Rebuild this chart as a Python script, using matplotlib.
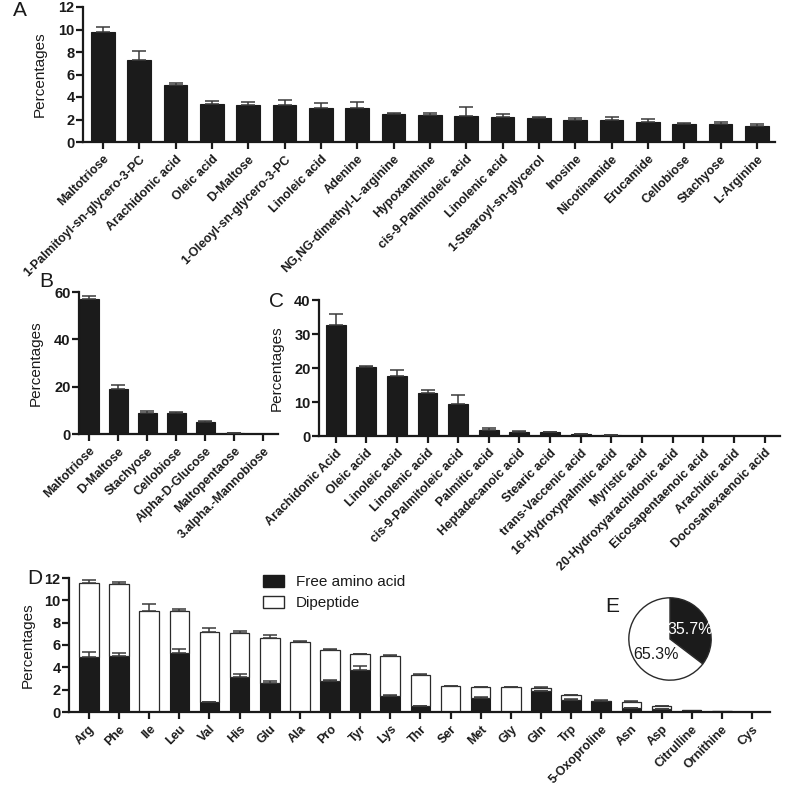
import matplotlib
matplotlib.use("Agg")
import matplotlib.pyplot as plt
from matplotlib.patches import Patch
import numpy as np

plt.rcParams['font.family'] = ['Liberation Sans', 'DejaVu Sans']

# ---------------- data ----------------
a_labels = ["Maltotriose", "1-Palmitoyl-sn-glycero-3-PC", "Arachidonic acid", "Oleic acid",
            "D-Maltose", "1-Oleoyl-sn-glycero-3-PC", "Linoleic acid", "Adenine",
            "NG,NG-dimethyl-L-arginine", "Hypoxanthine", "cis-9-Palmitoleic acid",
            "Linolenic acid", "1-Stearoyl-sn-glycerol", "Inosine", "Nicotinamide",
            "Erucamide", "Cellobiose", "Stachyose", "L-Arginine"]
a_values = [9.78, 7.29, 5.07, 3.38, 3.29, 3.29, 3.05, 3.05, 2.46, 2.44, 2.3, 2.2,
            2.14, 2.0, 2.0, 1.82, 1.61, 1.61, 1.46]
a_err = [0.42, 0.83, 0.2, 0.29, 0.29, 0.41, 0.42, 0.51, 0.14, 0.13, 0.77, 0.27,
         0.1, 0.1, 0.23, 0.21, 0.06, 0.18, 0.15]

b_labels = ["Maltotriose", "D-Maltose", "Stachyose", "Cellobiose", "Alpha-D-Glucose",
            "Maltopentaose", "3.alpha.-Mannobiose"]
b_values = [57.2, 19.1, 8.9, 8.9, 5.1, 0.4, 0.1]
b_err = [1.3, 1.4, 1.0, 0.3, 0.3, 0.05, 0.0]

c_labels = ["Arachidonic Acid", "Oleic acid", "Linoleic acid", "Linolenic acid",
            "cis-9-Palmitoleic acid", "Palmitic acid", "Heptadecanoic acid", "Stearic acid",
            "trans-Vaccenic acid", "16-Hydroxypalmitic acid", "Myristic acid",
            "20-Hydroxyarachidonic acid", "Eicosapentaenoic acid", "Arachidic acid",
            "Docosahexaenoic acid"]
c_values = [32.7, 20.3, 17.7, 12.7, 9.3, 1.8, 1.3, 1.1, 0.5, 0.2, 0.05, 0.03, 0.02, 0.02, 0.01]
c_err = [3.1, 0.3, 1.6, 0.9, 2.9, 0.5, 0.2, 0.05, 0.2, 0.05, 0.0, 0.0, 0.0, 0.0, 0.0]

d_labels = ["Arg", "Phe", "Ile", "Leu", "Val", "His", "Glu", "Ala", "Pro", "Tyr", "Lys",
            "Thr", "Ser", "Met", "Gly", "Gln", "Trp", "5-Oxoproline", "Asn", "Asp",
            "Citrulline", "Ornithine", "Cys"]
d_free = [4.96, 4.99, 0.0, 5.29, 0.89, 3.15, 2.64, 0.0, 2.78, 3.77, 1.46, 0.5, 0.0, 1.28,
          0.0, 1.84, 1.04, 1.01, 0.36, 0.24, 0.2, 0.12, 0.0]
d_free_err = [0.42, 0.31, 0.0, 0.38, 0.03, 0.24, 0.12, 0.0, 0.12, 0.36, 0.09, 0.03, 0.0,
              0.06, 0.0, 0.06, 0.12, 0.06, 0.03, 0.02, 0.0, 0.0, 0.0]
d_dipeptide = [6.59, 6.44, 9.06, 3.77, 6.27, 3.89, 4.01, 6.27, 2.77, 1.40, 3.56, 2.8, 2.29,
               0.92, 2.2, 0.30, 0.45, 0.0, 0.56, 0.29, 0.0, 0.0, 0.0]
d_total_err = [0.25, 0.24, 0.59, 0.15, 0.34, 0.2, 0.24, 0.13, 0.12, 0.06, 0.09, 0.06, 0.04,
               0.06, 0.04, 0.06, 0.06, 0.06, 0.06, 0.03, 0.0, 0.0, 0.0]

e_labels = ["35.7%", "65.3%"]
e_values = [35.7, 65.3]

# ---------------- layout helpers ----------------
W, H = 787, 798
fig = plt.figure(figsize=(W / 100, H / 100), dpi=100)
BAR = '#1b1b1b'
TXT = '#1a1a1a'


def px_axes(left, top, right, bottom):
    return fig.add_axes([left / W, 1 - bottom / H, (right - left) / W, (bottom - top) / H])


def style(ax, ylim, yticks, labels, xlim, lab_px):
    for s in ['top', 'right']:
        ax.spines[s].set_visible(False)
    for s in ['left', 'bottom']:
        ax.spines[s].set_linewidth(1.6)
        ax.spines[s].set_color(TXT)
    ax.set_ylim(*ylim)
    ax.set_yticks(yticks)
    ax.set_xlim(*xlim)
    ax.set_xticks(np.arange(len(labels)))
    ax.set_xticklabels(labels, rotation=45, ha='right', va='top', rotation_mode='anchor',
                       fontsize=8.9, fontweight='bold', color=TXT)
    ax.tick_params(axis='both', direction='out', length=5, width=1.6, color=TXT)
    ax.tick_params(axis='y', labelsize=10.5, pad=1, labelcolor=TXT)
    ax.tick_params(axis='x', pad=3)
    for t in ax.get_yticklabels():
        t.set_fontweight('bold')
    ax.set_ylabel('Percentages', fontsize=11, color=TXT)
    w_px = ax.get_position().width * W
    ax.yaxis.set_label_coords(-lab_px / w_px, 0.5)
    ax.patch.set_alpha(0)


def bars(ax, vals, errs):
    x = np.arange(len(vals))
    ax.bar(x, vals, width=0.65, color=BAR, edgecolor=BAR, linewidth=0.8, zorder=2)
    m = np.array(errs) > 0
    ax.errorbar(x[m], np.array(vals)[m], yerr=[np.zeros(m.sum()), np.array(errs)[m]],
                fmt='none', ecolor='#3a3a3a', elinewidth=1.1, capsize=5, capthick=1.1, zorder=3)


# Panel A
axA = px_axes(83, 7, 775, 142)
bars(axA, a_values, a_err)
style(axA, (0, 12), [0, 2, 4, 6, 8, 10, 12], a_labels, (-0.55, 18.5), 36)

# Panel B
axB = px_axes(79, 292, 278, 434)
bars(axB, b_values, b_err)
style(axB, (0, 60), [0, 20, 40, 60], b_labels, (-0.35, 6.5), 36)

# Panel C
axC = px_axes(319, 300, 780, 436)
bars(axC, c_values, c_err)
style(axC, (0, 40), [0, 10, 20, 30, 40], c_labels, (-0.54, 14.5), 35)

# Panel D
axD = px_axes(69, 578, 770, 712)
x = np.arange(len(d_labels))
free = np.array(d_free)
dip = np.array(d_dipeptide)
axD.bar(x, free, width=0.65, color=BAR, edgecolor=BAR, linewidth=0.8, zorder=2)
axD.bar(x, dip, bottom=free, width=0.65, color='white', edgecolor='#2a2a2a',
        linewidth=0.9, zorder=2)
tot = free + dip
te = np.array(d_total_err)
fe = np.array(d_free_err)
m = te > 0
axD.errorbar(x[m], tot[m], yerr=[np.zeros(m.sum()), te[m]], fmt='none', ecolor='#3a3a3a',
             elinewidth=1.1, capsize=5, capthick=1.1, zorder=3)
m2 = (fe > 0) & (dip > 0)
axD.errorbar(x[m2], free[m2], yerr=[np.zeros(m2.sum()), fe[m2]], fmt='none', ecolor='#3a3a3a',
             elinewidth=1.1, capsize=5, capthick=1.1, zorder=3)
style(axD, (0, 12), [0, 2, 4, 6, 8, 10, 12], d_labels, (-0.66, 22.6), 34)

leg = fig.legend(handles=[Patch(facecolor=BAR, edgecolor=BAR),
                          Patch(facecolor='white', edgecolor='#2a2a2a')],
                 labels=['Free amino acid', 'Dipeptide'],
                 loc='upper left', bbox_to_anchor=(263 / W, 1 - 575 / H), frameon=False,
                 fontsize=11, handlelength=1.4, handleheight=0.8, handletextpad=0.75,
                 labelspacing=0.45, borderpad=0, borderaxespad=0)
for t in leg.get_texts():
    t.set_color(TXT)

# Panel E (pie)
axE = px_axes(628, 597, 712, 681)
axE.pie(e_values, colors=[BAR, 'white'], startangle=90, counterclock=False,
        wedgeprops=dict(edgecolor='#2a2a2a', linewidth=1.0), radius=1)
axE.set_xlim(-1.02, 1.02)
axE.set_ylim(-1.02, 1.02)
axE.set_aspect('equal')
axE.text(0.49, 0.22, e_labels[0], color='white', fontsize=11.5, ha='center', va='center')
axE.text(-0.34, -0.37, e_labels[1], color=TXT, fontsize=11.5, ha='center', va='center')

# Panel letters
for lab, (px, py) in {'A': (20, 11), 'B': (46, 282), 'C': (277, 301), 'D': (35, 578),
                      'E': (612, 607)}.items():
    fig.text(px / W, 1 - py / H, lab, fontsize=15, ha='center', va='center', color=TXT)

fig.savefig('out.png', dpi=100)
